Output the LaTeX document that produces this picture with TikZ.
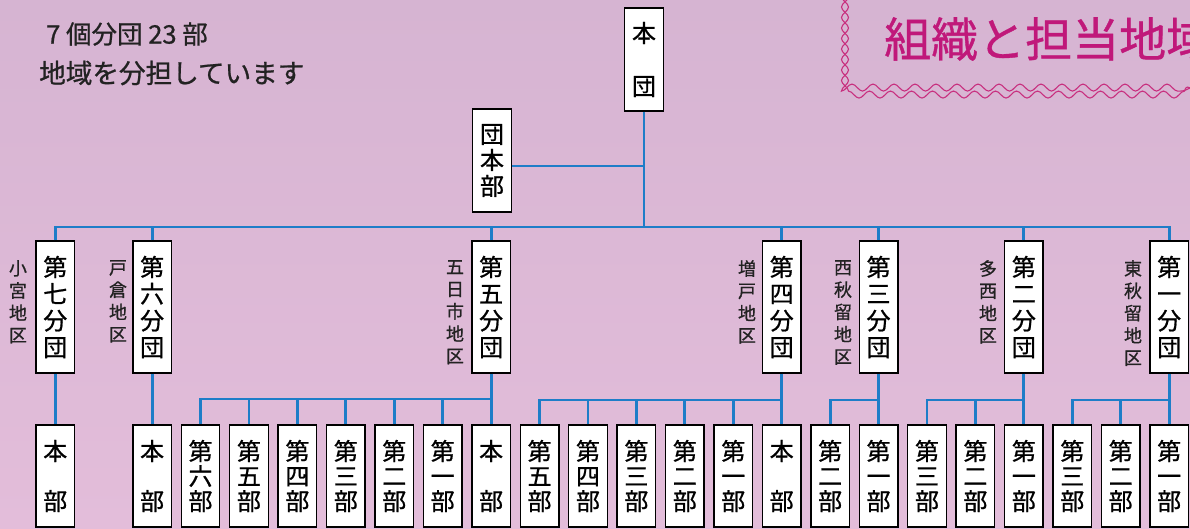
\documentclass[tikz,border=0pt]{standalone}
\usepackage{fontspec}
\setmainfont{Noto Sans CJK JP}[UprightFeatures={FakeBold=0.8}]
\usetikzlibrary{decorations.pathmorphing}
\definecolor{bgtop}{HTML}{D6B4D2}
\definecolor{bgbot}{HTML}{E3BDDA}
\definecolor{linkblue}{HTML}{1E7DC8}
\definecolor{titlemag}{HTML}{C0187A}
\definecolor{chainpink}{HTML}{C8307F}
\definecolor{txt}{HTML}{222222}
\begin{document}
\begin{tikzpicture}[x=1pt,y=-1pt,
  box/.style={draw=black, line width=1.4pt, fill=white, inner sep=0pt, minimum width=38.5pt, align=center, text=black},
  bigbox/.style={box, minimum height=132pt, font=\fontsize{24}{26.7}\selectfont},
  topbox/.style={box, minimum height=103pt},
  bubox/.style={box, minimum height=102pt, font=\fontsize{24}{25}\selectfont},
  honbu/.style={box, minimum height=102pt, font=\fontsize{24}{50}\selectfont},
  area/.style={anchor=north, align=center, inner sep=0pt, text=txt, font=\fontsize{18}{22.3}\selectfont},
  link/.style={draw=linkblue, line width=2.8pt},
  chainA/.style={draw=chainpink, line width=1.1pt, decorate, decoration={snake, amplitude=3.5pt, segment length=21pt}},
  chainB/.style={draw=chainpink, line width=1.1pt, decorate, decoration={snake, amplitude=3.5pt, segment length=21pt, mirror}},
  plain/.style={anchor=west, inner sep=0pt, text=txt}
]
\useasboundingbox (0,0) rectangle (1190,528);
\clip (0,0) rectangle (1190,528);
\shade[top color=bgtop, bottom color=bgbot] (0,0) rectangle (1190,528);

% heading texts
\node[plain, font=\fontsize{25.5}{30}\selectfont] (t1) at (46,34) {7 個分団 23 部};
\node[plain, font=\fontsize{26.6}{30}\selectfont] (t2) at (39,73) {地域を分担しています};
\node[plain, text=titlemag, font=\fontsize{47}{50}\selectfont] (title) at (884,39) {組織と担当地域};
\draw[chainA] (845,-10) -- (845,88) -- (1200,88);
\draw[chainB] (845,-10) -- (845,88) -- (1200,88);

% top
\node[topbox, font=\fontsize{24}{53}\selectfont] (hondan) at (644,59.5) {本\\団};
\node[topbox, font=\fontsize{24}{26}\selectfont] (danhonbu) at (492,160.5) {団\\本\\部};

% bundan
\node[bigbox] (b7) at (55.25,307) {第\\七\\分\\団};
\node[bigbox] (b6) at (152.11,307) {第\\六\\分\\団};
\node[bigbox] (b5) at (491.12,307) {第\\五\\分\\団};
\node[bigbox] (b4) at (781.70,307) {第\\四\\分\\団};
\node[bigbox] (b3) at (878.56,307) {第\\三\\分\\団};
\node[bigbox] (b2) at (1023.85,307) {第\\二\\分\\団};
\node[bigbox] (b1) at (1169.14,307) {第\\一\\分\\団};

% area labels
\node[area] (a7) at (18,260) {小\\宮\\地\\区};
\node[area] (a6) at (118,260) {戸\\倉\\地\\区};
\node[area] (a5) at (455,260) {五\\日\\市\\地\\区};
\node[area] (a4) at (747,260) {増\\戸\\地\\区};
\node[area] (a3) at (843,260) {西\\秋\\留\\地\\区};
\node[area] (a2) at (988,260) {多\\西\\地\\区};
\node[area] (a1) at (1133,260) {東\\秋\\留\\地\\区};

% units
\node[honbu] (u0) at (55.25,476) {本\\部};
\node[honbu] (u2) at (152.11,476) {本\\部};
\node[bubox] (u3) at (200.54,476) {第\\六\\部};
\node[bubox] (u4) at (248.97,476) {第\\五\\部};
\node[bubox] (u5) at (297.40,476) {第\\四\\部};
\node[bubox] (u6) at (345.83,476) {第\\三\\部};
\node[bubox] (u7) at (394.26,476) {第\\二\\部};
\node[bubox] (u8) at (442.69,476) {第\\一\\部};
\node[honbu] (u9) at (491.12,476) {本\\部};
\node[bubox] (u10) at (539.55,476) {第\\五\\部};
\node[bubox] (u11) at (587.98,476) {第\\四\\部};
\node[bubox] (u12) at (636.41,476) {第\\三\\部};
\node[bubox] (u13) at (684.84,476) {第\\二\\部};
\node[bubox] (u14) at (733.27,476) {第\\一\\部};
\node[honbu] (u15) at (781.70,476) {本\\部};
\node[bubox] (u16) at (830.13,476) {第\\二\\部};
\node[bubox] (u17) at (878.56,476) {第\\一\\部};
\node[bubox] (u18) at (926.99,476) {第\\三\\部};
\node[bubox] (u19) at (975.42,476) {第\\二\\部};
\node[bubox] (u20) at (1023.85,476) {第\\一\\部};
\node[bubox] (u21) at (1072.28,476) {第\\三\\部};
\node[bubox] (u22) at (1120.71,476) {第\\二\\部};
\node[bubox] (u23) at (1169.14,476) {第\\一\\部};

% coordinates
\coordinate (bus) at (644,227);
\coordinate (j) at (644,166);
\coordinate (s5) at (491.12,399);
\coordinate (s4) at (781.70,400);
\coordinate (s3) at (878.56,400);
\coordinate (s2) at (1023.85,400);
\coordinate (s1) at (1169.14,400);

% links
\draw[link] (hondan.south) -- (bus);
\draw[link] (danhonbu.east |- j) -- (j);
\draw[link] (b7.north) |- (bus) -| (b1.north);
\foreach \b in {b6,b5,b4,b3,b2} \draw[link] (\b.north) -- (\b.north |- bus);
\draw[link] (b7.south) -- (u0.north);
\draw[link] (b6.south) -- (u2.north);
\draw[link] (b5.south) -- (u9.north);
\draw[link] (u3.north) |- (s5);
\foreach \u in {u4,u5,u6,u7,u8} \draw[link] (\u.north) -- (\u.north |- s5);
\draw[link] (b4.south) -- (u15.north);
\draw[link] (u10.north) |- (s4);
\foreach \u in {u11,u12,u13,u14} \draw[link] (\u.north) -- (\u.north |- s4);
\draw[link] (b3.south) -- (u17.north);
\draw[link] (u16.north) |- (s3);
\draw[link] (b2.south) -- (u20.north);
\draw[link] (u18.north) |- (s2);
\draw[link] (u19.north) -- (u19.north |- s2);
\draw[link] (b1.south) -- (u23.north);
\draw[link] (u21.north) |- (s1);
\draw[link] (u22.north) -- (u22.north |- s1);
\end{tikzpicture}
\end{document}
